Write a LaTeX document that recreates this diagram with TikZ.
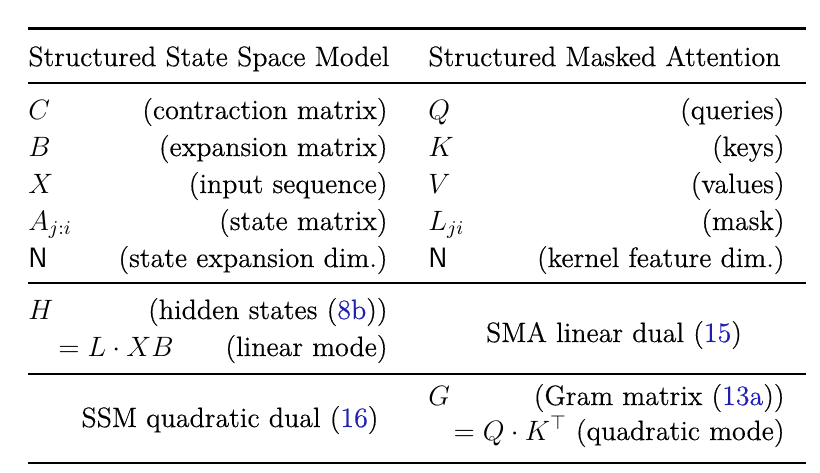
\documentclass[tikz,border=0pt]{standalone}
\usepackage{fix-cm}
\usepackage{amsmath}
\usepackage{fontspec}
\setmainfont{Latin Modern Roman}[FakeBold=0.35]
\definecolor{refblue}{rgb}{0.12,0.12,0.7}
\newcommand{\eqnref}[1]{(\textcolor{refblue}{#1})}

\begin{document}
\begin{tikzpicture}[
x=0.5pt,
y=-0.5pt,
font=\fontsize{14}{16}\selectfont,
lefttext/.style={anchor=base west, inner sep=0pt},
righttext/.style={anchor=base east, inner sep=0pt},
midtext/.style={anchor=base, inner sep=0pt},
thickrule/.style={line width=1.25pt},
thinrule/.style={line width=0.6pt},
]
\useasboundingbox (0,0) rectangle (820,472);
% rules
\coordinate (top-w) at (28,28.5);  \coordinate (top-e) at (806,28.5);
\coordinate (head-w) at (28,83);   \coordinate (head-e) at (806,83);
\coordinate (lin-w) at (28,283);   \coordinate (lin-e) at (806,283);
\coordinate (quad-w) at (28,374);  \coordinate (quad-e) at (806,374);
\coordinate (bot-w) at (28,463);   \coordinate (bot-e) at (806,463);
\draw[thickrule] (top-w) -- (top-e);
\draw[thinrule] (head-w) -- (head-e);
\draw[thinrule] (lin-w) -- (lin-e);
\draw[thinrule] (quad-w) -- (quad-e);
\draw[thickrule] (bot-w) -- (bot-e);
% header
\node[lefttext] (ssm-head) at (28,66) {Structured State Space Model};
\node[lefttext] (sma-head) at (428,66) {Structured Masked Attention};
% symbol rows
\foreach \ssym/\sdesc/\asym/\adesc [count=\i] in {
 {$C$}/{contraction matrix}/{$Q$}/{queries},
 {$B$}/{expansion matrix}/{$K$}/{keys},
 {$X$}/{input sequence}/{$V$}/{values},
 {$A_{j:i}$}/{state matrix}/{$L_{ji}$}/{mask},
 {\textsf{N}}/{state expansion dim.}/{\textsf{N}}/{kernel feature dim.}}
{
 \node[lefttext] (ssm-sym-\i) at (28,82+\i*37) {\ssym};
 \node[righttext] (ssm-desc-\i) at (388,82+\i*37) {(\sdesc)};
 \node[lefttext] (sma-sym-\i) at (428,82+\i*37) {\asym};
 \node[righttext] (sma-desc-\i) at (785,82+\i*37) {(\adesc)};
}
% linear mode
\node[lefttext] (hid) at (28,319) {$H$};
\node[righttext] (hid-desc) at (388,319) {(hidden states \eqnref{8b})};
\node[lefttext] (hid-eq) at (58,356) {$=L\cdot XB$};
\node[righttext] (lin-desc) at (388,356) {(linear mode)};
\node[midtext] (sma-dual) at (614,342) {SMA linear dual \eqnref{15}};
% quadratic mode
\node[midtext] (ssm-dual) at (230,427) {SSM quadratic dual \eqnref{16}};
\node[lefttext] (gram) at (428,405) {$G$};
\node[righttext] (gram-desc) at (785,405) {(Gram matrix \eqnref{13a})};
\node[righttext] (quad-desc) at (785,440) {$=Q\cdot K^{\top}$ (quadratic mode)};
\end{tikzpicture}
\end{document}
